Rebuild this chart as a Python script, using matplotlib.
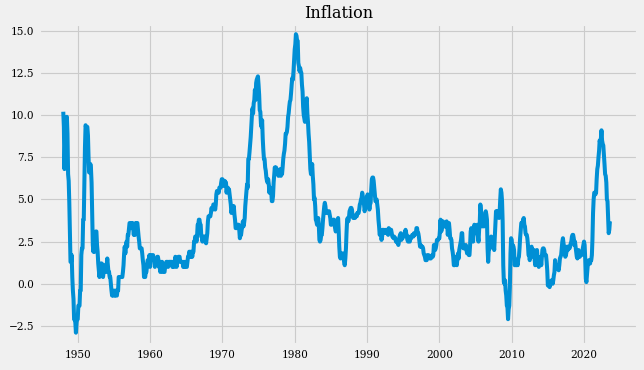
import pandas as pd
import matplotlib
matplotlib.use('Agg')
import matplotlib.pyplot as plt
import matplotlib.dates as mdates

# ----------------------------
# Inflação mensal (CPI, variação anual %), jan/1948 - ago/2023
# ----------------------------
infl_1940s = [
    10.2, 9.3, 6.8, 8.3, 9.4, 9.5, 9.9, 8.9, 6.5, 6.1, 4.8, 3.0,
    1.3, 1.3, 1.7, 0.4, -0.4, -0.9, -2.1, -2.1, -2.3, -2.9, -2.3, -2.1,
]
infl_1950s = [
    -2.1, -1.3, -1.3, -1.3, -0.4, -0.4, 1.7, 2.1, 2.1, 3.8, 3.8, 5.9,
    8.1, 9.4, 9.3, 9.3, 9.3, 8.8, 7.5, 6.6, 6.6, 7.1, 6.8, 6.0,
    4.3, 2.3, 1.9, 2.3, 1.9, 2.3, 3.1, 3.1, 2.3, 1.9, 1.2, 0.8,
    0.4, 0.8, 1.2, 0.8, 1.2, 1.1, 0.4, 0.7, 0.7, 1.1, 0.7, 0.7,
    1.1, 1.5, 1.1, 0.7, 0.7, 0.4, 0.4, 0.0, -0.4, -0.7, -0.4, -0.7,
    -0.7, -0.7, -0.4, -0.7, -0.7, -0.7, -0.4, -0.4, 0.4, 0.4, 0.4, 0.4,
    0.4, 0.4, 0.4, 0.7, 1.1, 1.8, 2.2, 1.8, 2.2, 2.5, 2.2, 2.9,
    2.9, 3.3, 3.6, 3.6, 3.6, 3.3, 3.6, 3.6, 3.3, 2.9, 3.3, 2.9,
    3.6, 3.2, 3.6, 3.6, 3.2, 2.8, 2.5, 2.1, 2.1, 2.1, 2.1, 1.8,
    1.4, 1.1, 0.4, 0.4, 0.4, 0.7, 0.7, 1.1, 1.4, 1.4, 1.4, 1.7,
]
infl_1960s = [
    1.0, 1.7, 1.7, 1.7, 1.7, 1.7, 1.4, 1.4, 1.0, 1.3, 1.3, 1.3,
    1.6, 1.6, 1.4, 1.0, 1.0, 0.7, 1.3, 1.0, 1.3, 0.7, 0.7, 0.7,
    0.7, 1.0, 1.0, 1.3, 1.3, 1.3, 1.0, 1.3, 1.3, 1.3, 1.3, 1.3,
    1.3, 1.0, 1.3, 1.0, 1.0, 1.3, 1.6, 1.3, 1.0, 1.3, 1.3, 1.6,
    1.6, 1.6, 1.3, 1.3, 1.3, 1.3, 1.3, 1.0, 1.3, 1.0, 1.3, 1.0,
    1.0, 1.0, 1.3, 1.6, 1.6, 1.9, 1.6, 1.9, 1.6, 1.9, 1.6, 1.9,
    1.9, 2.5, 2.5, 2.8, 2.8, 2.5, 2.8, 3.5, 3.5, 3.8, 3.8, 3.5,
    3.5, 2.8, 2.8, 2.5, 2.8, 2.8, 2.8, 2.5, 2.8, 2.4, 2.7, 3.0,
    3.7, 4.0, 4.0, 4.0, 4.0, 4.2, 4.5, 4.4, 4.4, 4.7, 4.7, 4.7,
    4.4, 4.7, 5.3, 5.5, 5.5, 5.5, 5.4, 5.7, 5.7, 5.7, 6.0, 6.2,
]
infl_1970s = [
    6.2, 6.1, 5.8, 6.1, 6.1, 6.0, 6.0, 5.4, 5.7, 5.7, 5.6, 5.6,
    5.3, 5.0, 4.7, 4.2, 4.4, 4.6, 4.4, 4.6, 4.1, 3.8, 3.3, 3.3,
    3.3, 3.5, 3.5, 3.5, 3.2, 2.7, 2.9, 2.9, 3.2, 3.4, 3.7, 3.4,
    3.6, 3.9, 4.6, 5.1, 5.5, 5.9, 5.7, 7.4, 7.4, 7.8, 8.3, 8.7,
    9.4, 10.0, 10.4, 10.1, 10.7, 10.9, 11.5, 10.9, 11.9, 12.1, 12.2, 12.3,
    11.8, 11.2, 10.3, 10.2, 9.5, 9.3, 9.7, 8.6, 7.9, 7.4, 7.4, 6.9,
    6.7, 6.3, 6.1, 6.0, 6.2, 5.9, 5.4, 5.7, 5.5, 5.5, 4.9, 4.9,
    5.2, 6.0, 6.4, 6.9, 6.7, 6.9, 6.8, 6.6, 6.6, 6.4, 6.7, 6.7,
    6.8, 6.4, 6.6, 6.5, 6.9, 7.4, 7.7, 7.9, 8.3, 8.9, 8.9, 9.0,
    9.3, 9.9, 10.1, 10.5, 10.8, 10.9, 11.3, 11.8, 12.2, 12.1, 12.6, 13.3,
]
infl_1980s = [
    13.9, 14.2, 14.8, 14.7, 14.4, 14.4, 13.1, 12.9, 12.6, 12.8, 12.6, 12.5,
    11.8, 11.4, 10.5, 10.0, 9.8, 9.6, 10.8, 10.8, 11.0, 10.1, 9.6, 8.9,
    8.4, 7.6, 6.8, 6.5, 6.7, 7.1, 6.4, 5.9, 5.0, 5.1, 4.6, 3.8,
    3.7, 3.5, 3.6, 3.9, 3.5, 2.6, 2.5, 2.6, 2.9, 2.9, 3.3, 3.8,
    4.2, 4.6, 4.8, 4.6, 4.2, 4.2, 4.2, 4.3, 4.3, 4.3, 4.1, 3.9,
    3.5, 3.5, 3.7, 3.7, 3.8, 3.8, 3.6, 3.3, 3.1, 3.2, 3.5, 3.8,
    3.9, 3.1, 2.2, 1.6, 1.5, 1.8, 1.6, 1.6, 1.8, 1.5, 1.3, 1.1,
    1.5, 2.1, 3.0, 3.8, 3.9, 3.7, 3.9, 4.3, 4.4, 4.5, 4.5, 4.4,
    4.0, 3.9, 3.9, 3.9, 3.9, 4.0, 4.1, 4.0, 4.2, 4.2, 4.2, 4.4,
    4.7, 4.8, 5.0, 5.1, 5.4, 5.2, 5.0, 4.7, 4.3, 4.5, 4.7, 4.6,
]
infl_1990s = [
    5.2, 5.3, 5.2, 4.7, 4.4, 4.7, 4.8, 5.6, 6.2, 6.3, 6.3, 6.1,
    5.7, 5.3, 4.9, 4.9, 5.0, 4.7, 4.4, 3.8, 3.4, 2.9, 3.0, 3.1,
    2.6, 2.8, 3.2, 3.2, 3.0, 3.1, 3.2, 3.1, 3.0, 3.2, 3.0, 2.9,
    3.3, 3.2, 3.1, 3.2, 3.2, 3.0, 2.8, 2.8, 2.7, 2.8, 2.7, 2.7,
    2.5, 2.5, 2.5, 2.4, 2.3, 2.5, 2.8, 2.9, 3.0, 2.6, 2.7, 2.7,
    2.8, 2.9, 2.9, 3.1, 3.2, 3.0, 2.8, 2.6, 2.5, 2.8, 2.6, 2.5,
    2.7, 2.7, 2.8, 2.9, 2.9, 2.8, 3.0, 2.9, 3.0, 3.0, 3.3, 3.3,
    3.0, 3.0, 2.8, 2.5, 2.2, 2.3, 2.2, 2.2, 2.2, 2.1, 1.8, 1.7,
    1.6, 1.4, 1.4, 1.4, 1.7, 1.7, 1.7, 1.6, 1.5, 1.5, 1.5, 1.6,
    1.7, 1.6, 1.7, 2.3, 2.1, 2.0, 2.1, 2.3, 2.6, 2.6, 2.6, 2.7,
]
infl_2000s = [
    2.7, 3.2, 3.8, 3.1, 3.2, 3.7, 3.7, 3.4, 3.5, 3.4, 3.4, 3.4,
    3.7, 3.5, 2.9, 3.3, 3.6, 3.2, 2.7, 2.7, 2.6, 2.1, 1.9, 1.6,
    1.1, 1.1, 1.5, 1.6, 1.2, 1.1, 1.5, 1.8, 1.5, 2.0, 2.2, 2.4,
    2.6, 3.0, 3.0, 2.2, 2.1, 2.1, 2.1, 2.2, 2.3, 2.0, 1.8, 1.9,
    1.9, 1.7, 1.7, 2.3, 3.1, 3.3, 3.0, 2.7, 2.5, 3.2, 3.5, 3.3,
    3.0, 3.0, 3.1, 3.5, 2.8, 2.5, 3.2, 3.6, 4.7, 4.3, 3.5, 3.4,
    4.0, 3.6, 3.4, 3.5, 4.2, 4.3, 4.1, 3.8, 2.1, 1.3, 2.0, 2.5,
    2.1, 2.4, 2.8, 2.6, 2.7, 2.7, 2.4, 2.0, 2.8, 3.5, 4.3, 4.1,
    4.3, 4.0, 4.0, 3.9, 4.2, 5.0, 5.6, 5.4, 4.9, 3.7, 1.1, 0.1,
    0.0, 0.2, -0.4, -0.7, -1.3, -1.4, -2.1, -1.5, -1.3, -0.2, 1.8, 2.7,
]
infl_2010s = [
    2.6, 2.1, 2.3, 2.2, 2.0, 1.1, 1.2, 1.1, 1.1, 1.2, 1.1, 1.5,
    1.6, 2.1, 2.7, 3.2, 3.6, 3.6, 3.6, 3.8, 3.9, 3.5, 3.4, 3.0,
    2.9, 2.9, 2.7, 2.3, 1.7, 1.7, 1.4, 1.7, 2.0, 2.2, 1.8, 1.7,
    1.6, 2.0, 1.5, 1.1, 1.4, 1.8, 2.0, 1.5, 1.2, 1.0, 1.2, 1.5,
    1.6, 1.1, 1.5, 2.0, 2.1, 2.1, 2.0, 1.7, 1.7, 1.7, 1.3, 0.8,
    -0.1, 0.0, -0.1, -0.2, 0.0, 0.1, 0.2, 0.2, 0.0, 0.2, 0.5, 0.7,
    1.4, 1.0, 0.9, 1.1, 1.0, 1.0, 0.8, 1.1, 1.5, 1.6, 1.7, 2.1,
    2.5, 2.7, 2.4, 2.2, 1.9, 1.6, 1.7, 1.9, 2.2, 2.0, 2.2, 2.1,
    2.1, 2.2, 2.4, 2.5, 2.8, 2.9, 2.9, 2.7, 2.3, 2.5, 2.2, 1.9,
    1.6, 1.5, 1.9, 2.0, 1.8, 1.6, 1.8, 1.7, 1.7, 1.8, 2.1, 2.3,
]
infl_2020s = [
    2.5, 2.3, 1.5, 0.3, 0.1, 0.6, 1.0, 1.3, 1.4, 1.2, 1.2, 1.4,
    1.4, 1.7, 2.6, 4.2, 5.0, 5.4, 5.4, 5.3, 5.4, 6.2, 6.8, 7.0,
    7.5, 7.9, 8.5, 8.3, 8.6, 9.1, 8.5, 8.3, 8.2, 7.7, 7.1, 6.5,
    6.4, 6.0, 5.0, 4.9, 4.0, 3.0, 3.2, 3.7,
]

valores = (infl_1940s + infl_1950s + infl_1960s + infl_1970s + infl_1980s
           + infl_1990s + infl_2000s + infl_2010s + infl_2020s)
datas = pd.date_range('1948-01-01', periods=len(valores), freq='MS')
serie = pd.Series(valores, index=datas)

# ----------------------------
# Gráfico
# ----------------------------
plt.style.use('fivethirtyeight')
plt.rcParams['font.family'] = ['DejaVu Serif']
plt.rcParams['font.size'] = 7.6

fig, ax = plt.subplots(figsize=(6.44, 3.70), dpi=100)
fig.subplots_adjust(left=0.0606, right=0.9907, bottom=0.0676, top=0.935)

ax.plot(serie.index, serie.values, color='#008fd5', linewidth=2.9)
ax.set_title('Inflation', fontsize=11.5, pad=4)
ax.set_xlim(pd.Timestamp('1944-08-25'), pd.Timestamp('2027-06-20'))
ax.set_ylim(-3.63, 15.40)
ax.xaxis.set_major_locator(mdates.YearLocator(10))
ax.xaxis.set_major_formatter(mdates.DateFormatter('%Y'))
ax.tick_params(labelsize=7.6)
ax.grid(True, color='#cbcbcb', linewidth=0.8)

fig.savefig('out.png', dpi=100, facecolor=fig.get_facecolor())
